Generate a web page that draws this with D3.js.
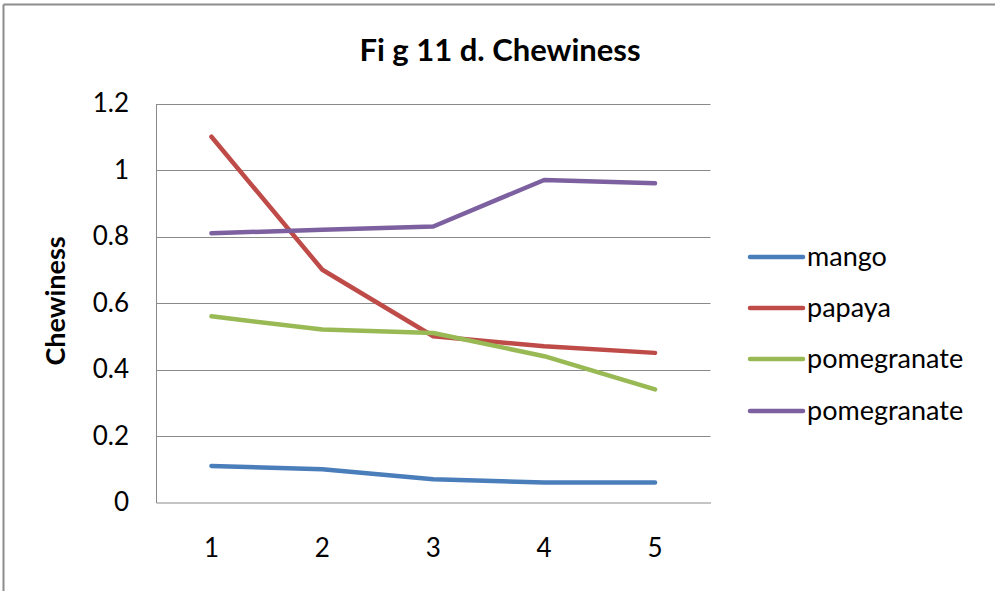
<!DOCTYPE html>
<html>
<head>
<meta charset="utf-8">
<script src="https://cdn.jsdelivr.net/npm/d3@7"></script>
<style>
  html, body { margin: 0; padding: 0; background: #fff; }
  svg { display: block; }
  text { font-family: Lato, "Open Sans", sans-serif; fill: #000; }
</style>
</head>
<body>
<svg id="chart" width="995" height="591"></svg>
<script>
// Days of storage on the x axis
const days = [1, 2, 3, 4, 5];

// Chewiness per fruit
const mango = [0.11, 0.10, 0.07, 0.06, 0.06];
const papaya = [1.10, 0.70, 0.50, 0.47, 0.45];
const pomegranateA = [0.56, 0.52, 0.51, 0.44, 0.34];
const pomegranateB = [0.81, 0.82, 0.83, 0.97, 0.96];

const seriesNames = ["mango", "papaya", "pomegranate", "pomegranate"];
const seriesColors = ["#4A7EBB", "#BE4B48", "#98B954", "#7D60A0"];
const yTicks = [0, 0.2, 0.4, 0.6, 0.8, 1, 1.2];

const series = [mango, papaya, pomegranateA, pomegranateB].map((values, i) => ({
  name: seriesNames[i], color: seriesColors[i], values
}));

const svg = d3.select("#chart");
const W = 995, H = 591;
const plot = { left: 156, right: 710.5, top: 103.5, bottom: 502.5 };

// Chart frame (top and left edges)
svg.append("line").attr("x1", 3.5).attr("x2", W).attr("y1", 4.5).attr("y2", 4.5)
  .attr("stroke", "#8c8c8c").attr("stroke-width", 2);
svg.append("line").attr("x1", 3.5).attr("x2", 3.5).attr("y1", 4.5).attr("y2", H)
  .attr("stroke", "#8c8c8c").attr("stroke-width", 2);

const x = d3.scaleBand().domain(days).range([plot.left, plot.right]);
const y = d3.scaleLinear().domain([0, 1.2]).range([plot.bottom, plot.top]);

// Gridlines
svg.append("g").selectAll("line").data(yTicks.filter(d => d > 0)).join("line")
  .attr("x1", plot.left).attr("x2", plot.right)
  .attr("y1", d => Math.round(y(d)) + 0.5).attr("y2", d => Math.round(y(d)) + 0.5)
  .attr("stroke", "#8a8a8a").attr("stroke-width", 1);

// Y axis
const yAxis = svg.append("g")
  .attr("transform", `translate(${plot.left},0)`)
  .call(d3.axisLeft(y).tickValues(yTicks).tickSize(0).tickPadding(27)
    .tickFormat(d => d3.format("")(+d.toFixed(1))));
yAxis.select(".domain").attr("stroke", "#8a8a8a");
yAxis.selectAll("text").attr("font-size", 26).attr("font-family", "Lato").attr("fill", "#000");

// X axis
const xAxis = svg.append("g")
  .attr("transform", `translate(0,${plot.bottom})`)
  .call(d3.axisBottom(x).tickSize(0).tickPadding(36));
xAxis.select(".domain").attr("stroke", "#8a8a8a");
xAxis.selectAll("text").attr("font-size", 26).attr("font-family", "Lato").attr("fill", "#000");

// Series lines
const line = d3.line()
  .x((d, i) => x(days[i]) + x.bandwidth() / 2)
  .y(d => y(d));

svg.append("g").selectAll("path").data(series).join("path")
  .attr("d", d => line(d.values))
  .attr("fill", "none")
  .attr("stroke", d => d.color)
  .attr("stroke-width", 4.5)
  .attr("stroke-linejoin", "round")
  .attr("stroke-linecap", "round");

// Title
svg.append("text")
  .attr("x", 500).attr("y", 61)
  .attr("text-anchor", "middle")
  .attr("font-size", 31).attr("font-weight", "bold")
  .text("Fi g 11 d. Chewiness");

// Y axis title
svg.append("text")
  .attr("transform", "translate(65,301) rotate(-90)")
  .attr("text-anchor", "middle")
  .attr("font-size", 27).attr("font-weight", "bold")
  .text("Chewiness");

// Legend
const legendY = [257, 308, 359, 411];
const legend = svg.append("g").selectAll("g").data(series).join("g")
  .attr("transform", (d, i) => `translate(750,${legendY[i]})`);
legend.append("line")
  .attr("x1", 0).attr("x2", 53)
  .attr("stroke", d => d.color).attr("stroke-width", 4.5)
  .attr("stroke-linecap", "round");
legend.append("text")
  .attr("x", 57).attr("dy", "0.35em")
  .attr("font-size", 27)
  .text(d => d.name);
</script>
</body>
</html>
